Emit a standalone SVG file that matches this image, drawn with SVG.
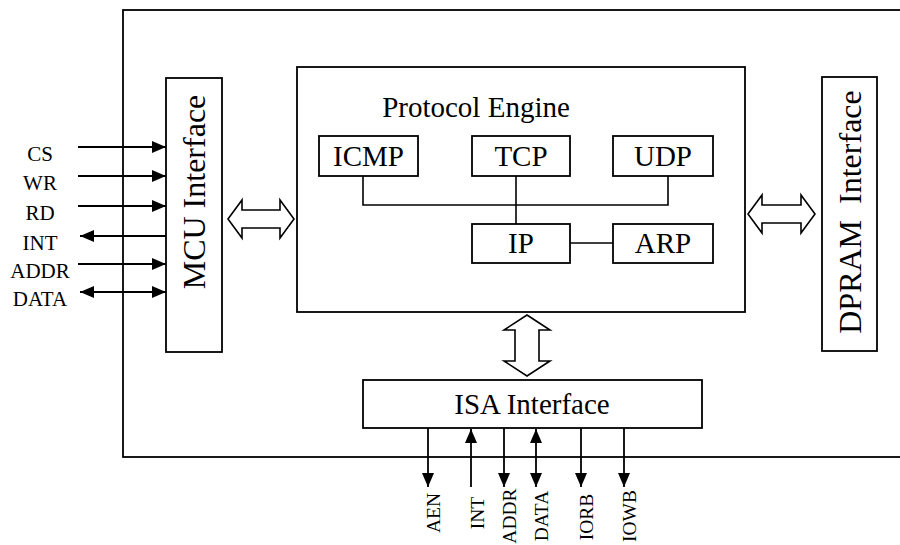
<svg xmlns="http://www.w3.org/2000/svg" width="900" height="545" viewBox="0 0 900 545">
  <style>
    .box { fill: #ffffff; stroke: #000000; stroke-width: 1.8; }
    .wire { fill: none; stroke: #000000; stroke-width: 1.6; }
    .sig { fill: none; stroke: #000000; stroke-width: 1.8; }
    .bus { fill: #ffffff; stroke: #000000; stroke-width: 1.6; stroke-linejoin: miter; }
    .lbl { font-family: "Liberation Serif", "Times New Roman", serif; font-size: 29px; fill: #000000; }
    .vlbl { font-family: "Liberation Serif", "Times New Roman", serif; font-size: 32px; fill: #000000; }
    .pin { font-family: "Liberation Serif", "Times New Roman", serif; font-size: 21px; fill: #000000; }
    .bpin { font-family: "Liberation Serif", "Times New Roman", serif; font-size: 19.5px; fill: #000000; }
  </style>
  <defs>
    <marker id="ah" markerUnits="userSpaceOnUse" markerWidth="14" markerHeight="12" refX="14" refY="6" orient="auto-start-reverse">
      <path d="M0,0 L14,6 L0,12 Z" fill="#000000"/>
    </marker>
  </defs>

  <rect width="900" height="545" fill="#ffffff"/>

  <!-- chip outline (right side runs past the edge) -->
  <rect id="chip" class="box" x="123" y="10" width="800" height="447" fill="none"/>

  <!-- blocks -->
  <g id="mcu">
    <rect class="box" x="166" y="78" width="56" height="274"/>
    <text class="vlbl" transform="translate(205,192) rotate(-90)" text-anchor="middle">MCU Interface</text>
  </g>
  <g id="dpram">
    <rect class="box" x="822" y="77" width="55" height="274"/>
    <text class="vlbl" transform="translate(861,212) rotate(-90)" text-anchor="middle" xml:space="preserve">DPRAM  Interface</text>
  </g>
  <g id="engine">
    <rect class="box" x="297" y="67" width="448" height="245"/>
    <text class="lbl" x="476" y="117" text-anchor="middle">Protocol Engine</text>
  </g>
  <g id="icmp">
    <rect class="box" x="319" y="136" width="99" height="40"/>
    <text class="lbl" x="368.5" y="166" text-anchor="middle">ICMP</text>
  </g>
  <g id="tcp">
    <rect class="box" x="472" y="136" width="98" height="40"/>
    <text class="lbl" x="521" y="166" text-anchor="middle">TCP</text>
  </g>
  <g id="udp">
    <rect class="box" x="613" y="136" width="100" height="40"/>
    <text class="lbl" x="663" y="166" text-anchor="middle">UDP</text>
  </g>
  <g id="ip">
    <rect class="box" x="472" y="224" width="98" height="39"/>
    <text class="lbl" x="521" y="253" text-anchor="middle">IP</text>
  </g>
  <g id="arp">
    <rect class="box" x="613" y="224" width="100" height="39"/>
    <text class="lbl" x="663" y="253" text-anchor="middle">ARP</text>
  </g>
  <g id="isa">
    <rect class="box" x="363" y="380" width="339" height="48"/>
    <text class="lbl" x="532" y="414" text-anchor="middle">ISA Interface</text>
  </g>

  <g id="connectors">
    <!-- protocol stack wiring -->
    <path class="wire" d="M363,176 V205 H668 V176"/>
    <path class="wire" d="M516,176 V224"/>
    <path class="wire" d="M570,243 H613"/>

    <!-- block-to-block buses -->
    <path class="bus" d="M228,219 L242,200 L242,210 L280,210 L280,200 L294,219 L280,238 L280,228 L242,228 L242,238 Z"/>
    <path class="bus" d="M748,214 L762,195 L762,205 L801,205 L801,195 L815,214 L801,233 L801,223 L762,223 L762,233 Z"/>
    <path class="bus" d="M527,315 L550,330 L539,330 L539,361 L550,361 L527,376 L504,361 L515,361 L515,330 L504,330 Z"/>

    <!-- MCU side signals -->
    <line class="sig" x1="78" y1="147" x2="166" y2="147" marker-end="url(#ah)"/>
    <line class="sig" x1="78" y1="176" x2="166" y2="176" marker-end="url(#ah)"/>
    <line class="sig" x1="78" y1="206" x2="166" y2="206" marker-end="url(#ah)"/>
    <line class="sig" x1="166" y1="236" x2="80" y2="236" marker-end="url(#ah)"/>
    <line class="sig" x1="78" y1="264" x2="166" y2="264" marker-end="url(#ah)"/>
    <line class="sig" x1="80" y1="292" x2="166" y2="292" marker-start="url(#ah)" marker-end="url(#ah)"/>

    <!-- ISA side signals -->
    <line class="sig" x1="428" y1="428" x2="428" y2="487" marker-end="url(#ah)"/>
    <line class="sig" x1="471" y1="487" x2="471" y2="429" marker-end="url(#ah)"/>
    <line class="sig" x1="504" y1="428" x2="504" y2="487" marker-end="url(#ah)"/>
    <line class="sig" x1="536" y1="429" x2="536" y2="487" marker-start="url(#ah)" marker-end="url(#ah)"/>
    <line class="sig" x1="581" y1="428" x2="581" y2="487" marker-end="url(#ah)"/>
    <line class="sig" x1="624" y1="428" x2="624" y2="487" marker-end="url(#ah)"/>
  </g>

  <!-- MCU pin names -->
  <g id="mcu-pins">
    <text class="pin" x="40" y="161" text-anchor="middle">CS</text>
    <text class="pin" x="40" y="190" text-anchor="middle">WR</text>
    <text class="pin" x="40" y="220" text-anchor="middle">RD</text>
    <text class="pin" x="40" y="250" text-anchor="middle">INT</text>
    <text class="pin" x="40" y="278" text-anchor="middle">ADDR</text>
    <text class="pin" x="40" y="306" text-anchor="middle">DATA</text>
  </g>

  <!-- ISA pin names -->
  <g id="isa-pins">
    <text class="bpin" transform="translate(440,513) rotate(-90)" text-anchor="middle">AEN</text>
    <text class="bpin" transform="translate(484,513) rotate(-90)" text-anchor="middle">INT</text>
    <text class="bpin" transform="translate(516,516) rotate(-90)" text-anchor="middle">ADDR</text>
    <text class="bpin" transform="translate(548,516) rotate(-90)" text-anchor="middle">DATA</text>
    <text class="bpin" transform="translate(593,517) rotate(-90)" text-anchor="middle">IORB</text>
    <text class="bpin" transform="translate(636,516) rotate(-90)" text-anchor="middle">IOWB</text>
  </g>
</svg>
